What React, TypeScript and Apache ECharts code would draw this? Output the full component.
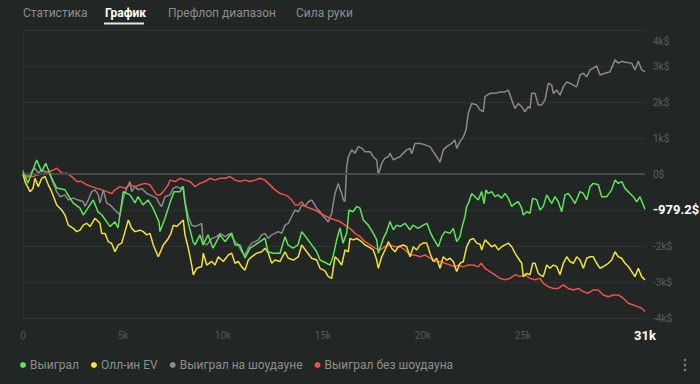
import React, { useEffect, useRef } from 'react';
import * as echarts from 'echarts';

const tabs = ['Статистика', 'График', 'Префлоп диапазон', 'Сила руки'];
const activeTab = 1;
const seriesNames = ['Выиграл', 'Олл-ин EV', 'Выиграл на шоудауне', 'Выиграл без шоудауна'];
const seriesColors = ['#5ee659', '#efe33a', '#8a8a8a', '#ee524b'];
const totalHands = 31100;
const totalHandsLabel = '31k';
const xTicks = [0, 5000, 10000, 15000, 20000, 25000];

const greenHands = [0,250,685,935,1135,1435,1685,2100,2500,2850,3015,3515,3750,3950,4350,4600,4750,5015,5350,5600,5750,6000,6250,6500,6800,6850,7100,7350,7550,7850,8000,8100,8250,8500,8600,8850,9000,9250,9500,9850,10100,10435,10600,10850,11100,11350,11600,11850,12100,12250,12500,12850,13100,13250,13500,13750,13935,14185,14435,14685,14850,15185,15350,15500,15685,15850,16000,16185,16300,16500,16685,16850,17015,17265,17515,17685,17765,18015,18185,18350,18515,18685,18850,19100,19350,19500,19750,20015,20200,20350,20515,20765,20935,21100,21350,21515,21685,21850,21935,22100,22185,22265,22435,22600,22765,22935,23050,23150,23250,23435,23600,23750,23935,24100,24265,24435,24600,24765,24935,25015,25185,25350,25485,25685,25850,26015,26185,26435,26600,26765,26935,27100,27265,27435,27600,27850,28015,28185,28350,28515,28765,28935,29185,29435,29600,29765,29935,30100,30350,30515,30685,30850,31015,31100];
const greenValues = [50,-250,390,60,300,-110,-390,-440,-800,-950,-1140,-720,-1050,-1140,-1460,-1330,-1500,-490,-580,-800,-630,-860,-720,-950,-1330,-1600,-1230,-800,-490,-490,-350,-800,-1330,-1880,-1970,-1690,-1970,-1690,-2060,-1690,-1880,-1640,-1970,-1970,-2330,-2060,-1970,-1880,-1780,-2160,-2200,-2200,-1740,-1970,-2060,-1970,-1600,-1780,-1970,-2160,-2390,-2480,-2530,-2300,-1830,-1500,-1920,-1640,-1000,-1050,-900,-950,-1280,-1420,-1650,-1830,-2200,-1790,-1600,-1320,-1550,-1420,-1460,-1370,-1550,-1420,-1510,-1420,-1370,-1600,-1790,-2020,-1740,-1600,-1650,-1510,-1880,-1740,-1510,-1180,-900,-820,-540,-630,-720,-490,-820,-440,-540,-490,-630,-580,-670,-540,-670,-900,-820,-770,-950,-1140,-1050,-1090,-670,-720,-1000,-900,-580,-820,-630,-770,-1050,-580,-540,-670,-820,-490,-540,-720,-350,-260,-300,-630,-630,-440,-170,-260,-210,-400,-540,-630,-770,-630,-860,-979.2];

const yellowHands = [0,100,350,500,600,765,935,1100,1265,1435,1685,1935,2100,2265,2515,2685,2850,3015,3185,3350,3600,3850,3935,4100,4265,4435,4600,4765,4935,5100,5265,5435,5600,5850,6015,6185,6350,6515,6765,7015,7265,7400,7515,7685,7850,8015,8100,8265,8435,8515,8685,8935,9015,9185,9435,9600,9765,10015,10265,10435,10600,10765,10935,11100,11265,11435,11685,11935,12100,12265,12435,12600,12850,13100,13265,13515,13765,13935,14185,14435,14685,14850,15100,15265,15435,15600,15765,15935,16100,16265,16350,16515,16685,16935,17100,17265,17515,17685,17765,17935,18100,18265,18435,18600,18765,19015,19185,19350,19515,19685,19850,20015,20185,20350,20515,20685,20850,21015,21185,21350,21515,21685,21850,22015,22185,22350,22515,22685,22850,22935,23100,23265,23435,23600,23765,23935,24100,24265,24435,24600,24765,24935,25015,25185,25350,25485,25600,25765,25850,26015,26185,26350,26515,26685,26850,27015,27185,27350,27515,27685,27850,28015,28185,28350,28515,28685,28850,29015,29265,29435,29600,29765,29935,30100,30265,30435,30600,30765,30935,31100];
const yellowValues = [0,-210,-490,-400,-120,-350,-120,-70,-300,-490,-860,-1000,-1140,-1420,-1510,-1600,-1560,-1420,-1370,-1460,-1230,-1370,-1650,-1650,-1880,-1930,-2160,-1970,-1920,-1600,-1280,-1510,-1600,-1560,-1600,-1690,-1650,-1970,-2300,-1970,-1790,-1650,-1420,-1460,-1370,-1280,-1690,-2060,-2530,-2800,-2620,-2570,-2200,-2530,-2430,-2530,-2300,-2430,-2250,-2200,-2480,-2430,-2580,-2670,-2390,-2300,-2200,-2160,-2060,-2200,-2480,-2390,-2430,-2160,-2340,-2390,-2300,-1970,-2160,-2340,-2390,-2620,-2690,-2850,-2900,-2300,-2390,-2530,-2110,-2160,-1790,-1830,-1790,-1880,-1970,-2020,-2110,-2390,-2620,-2300,-2110,-1880,-2060,-2160,-2020,-1970,-2020,-2300,-2020,-2110,-1970,-1920,-1920,-2200,-2430,-2340,-2620,-2300,-2390,-2340,-2430,-2710,-2480,-2430,-2020,-1830,-1790,-1920,-1950,-2110,-1830,-1920,-2020,-1970,-2110,-2020,-1970,-1920,-2020,-2200,-2340,-2480,-2850,-2760,-2800,-2480,-2480,-2760,-2800,-2850,-2530,-2620,-2530,-2570,-2800,-2480,-2300,-2430,-2480,-2300,-2390,-2620,-2340,-2300,-2300,-2480,-2620,-2570,-2480,-2390,-2160,-2300,-2340,-2480,-2570,-2710,-2850,-2620,-2850,-2940];

const grayHands = [0,65,265,435,600,765,935,1185,1350,1515,1685,1850,2100,2265,2515,2765,3015,3100,3265,3435,3600,3765,3850,4015,4185,4350,4515,4685,4850,5015,5185,5350,5435,5600,5765,5935,6185,6350,6515,6685,6800,6935,7100,7350,7515,7685,7850,8015,8100,8265,8435,8600,8765,8935,9015,9185,9435,9685,9850,10100,10350,10600,10765,10935,11100,11265,11435,11600,11765,11935,12100,12265,12435,12600,12765,12935,13100,13265,13435,13600,13765,13935,14100,14265,14435,14685,14850,15015,15100,15265,15435,15515,15600,15765,15850,15935,16015,16100,16185,16265,16435,16600,16765,16935,17100,17350,17515,17685,17765,17935,18100,18265,18350,18515,18685,18850,19015,19185,19350,19435,19600,19850,20100,20350,20515,20685,20850,21015,21185,21435,21600,21685,21850,22015,22150,22265,22435,22685,22850,23015,23100,23350,23600,23850,24100,24265,24435,24600,24765,24935,25100,25265,25350,25435,25600,25765,25935,26100,26265,26435,26515,26685,26850,27015,27185,27350,27515,27685,27850,28015,28185,28350,28515,28685,28850,29100,29350,29600,29765,29935,30185,30435,30600,30765,30935,31100];
const grayValues = [100,-30,-70,60,160,30,110,60,-30,-260,-490,-630,-580,-720,-670,-720,-770,-900,-720,-490,-440,-580,-810,-440,-810,-860,-950,-1050,-1140,-670,-400,-210,-490,-350,-440,-400,-540,-580,-630,-670,-810,-900,-630,-580,-400,-350,-400,-350,-760,-1180,-1420,-1460,-1420,-1370,-1920,-1970,-1790,-1740,-1650,-1740,-1650,-1880,-1970,-2160,-2250,-2060,-1920,-1880,-1830,-1690,-1650,-1790,-1690,-1650,-1600,-1650,-1420,-1370,-1180,-1000,-1050,-860,-900,-770,-720,-950,-1050,-1180,-1230,-1330,-1090,-810,-540,-260,-420,-540,-720,-760,200,480,670,580,760,720,620,620,480,390,-30,300,440,480,580,390,440,480,580,670,710,560,850,850,810,760,620,480,330,670,760,850,940,710,900,1030,1220,1690,1960,1920,1780,1730,2150,2240,2240,2280,2280,2330,2060,1820,1960,1870,1730,1870,1820,2240,2240,1920,1920,2060,2520,2470,2240,2330,2190,2420,2560,2520,2470,2420,2750,2800,2700,2890,2940,3000,2750,2800,2840,3170,3080,3130,3100,3080,2890,3130,2890,2840];

const redHands = [0,100,265,515,685,935,1265,1515,1685,1935,2185,2435,2685,2935,3185,3435,3685,3935,4185,4435,4600,4850,5100,5350,5600,5850,6100,6350,6515,6685,6850,7015,7265,7350,7600,7850,8100,8350,8600,8850,9100,9350,9600,9850,10100,10350,10600,10850,11100,11350,11600,11850,12100,12265,12435,12600,12850,13100,13265,13435,13600,13765,13935,14100,14350,14600,14850,15100,15350,15600,15850,16100,16350,16600,16850,17100,17350,17600,17850,18100,18350,18600,18850,19100,19350,19600,19850,20100,20350,20600,20850,21100,21350,21600,21765,22015,22265,22515,22765,22900,23100,23350,23600,23850,24100,24350,24600,24850,25100,25350,25600,25850,26015,26265,26515,26765,27015,27265,27515,27765,28015,28265,28515,28765,29015,29265,29515,29765,30015,30265,30515,30765,30935,31100];
const redValues = [0,-120,-70,-70,-30,0,60,110,160,30,20,-70,-210,-210,-300,-350,-400,-440,-490,-540,-440,-350,-400,-300,-350,-300,-260,-300,-440,-580,-580,-490,-300,-170,-210,-120,-170,-210,-350,-260,-210,-120,-170,-120,-120,-70,-170,-210,-170,-210,-170,-120,-170,-260,-350,-440,-540,-580,-630,-720,-860,-860,-770,-900,-950,-1000,-1090,-1160,-1230,-1280,-1320,-1420,-1510,-1650,-1740,-1880,-1970,-2060,-2110,-2020,-1970,-2020,-2020,-2110,-2250,-2250,-2300,-2250,-2340,-2430,-2430,-2480,-2530,-2580,-2530,-2580,-2530,-2530,-2580,-2480,-2620,-2710,-2800,-2900,-2940,-2900,-2800,-2850,-2800,-2900,-2940,-2900,-3040,-3130,-3180,-3180,-3080,-3180,-3220,-3180,-3270,-3310,-3220,-3220,-3360,-3410,-3360,-3360,-3450,-3590,-3640,-3690,-3730,-3820];

const pairs = (hs: number[], vs: number[]) => {
  const n = Math.min(hs.length, vs.length);
  const out: number[][] = [];
  for (let i = 0; i < n; i++) out.push([hs[i], vs[i]]);
  return out;
};

const FONT = 'Roboto, "Noto Sans", sans-serif';
const BG = '#222625';
const AXIS_LABEL = '#5a5f5d';

export default function App() {
  const ref = useRef<HTMLDivElement>(null);
  useEffect(() => {
    document.body.style.margin = '0';
    document.body.style.background = BG;
    if (!ref.current) return;
    const chart = echarts.init(ref.current, null, { renderer: 'svg' });
    const lastGreen = greenValues[greenValues.length - 1];
    const tabX = [23, 105, 168, 296];
    const lineBase = (name: string, color: string, data: number[][], z: number) => ({
      name,
      type: 'line',
      data,
      showSymbol: false,
      symbol: 'none',
      z,
      lineStyle: { color, width: 1.5 },
      itemStyle: { color },
      emphasis: { disabled: true },
    });
    const series: any[] = [
      {
        ...lineBase(seriesNames[2], seriesColors[2], pairs(grayHands, grayValues), 2),
        markLine: {
          silent: true,
          symbol: ['none', 'none'],
          label: { show: false },
          lineStyle: { color: '#464b49', width: 2, type: 'solid' },
          data: [{ yAxis: 0 }],
        },
      },
      lineBase(seriesNames[3], seriesColors[3], pairs(redHands, redValues), 3),
      lineBase(seriesNames[1], seriesColors[1], pairs(yellowHands, yellowValues), 4),
      {
        ...lineBase(seriesNames[0], seriesColors[0], pairs(greenHands, greenValues), 5),
        endLabel: {
          show: true,
          formatter: () => `${lastGreen}$`,
          color: '#ffffff',
          fontWeight: 'bold',
          fontSize: 13,
          fontFamily: FONT,
          distance: 8,
        },
      },
    ];
    chart.setOption({
      animation: false,
      backgroundColor: BG,
      textStyle: { fontFamily: FONT },
      grid: { left: 23, right: 55, top: 30, bottom: 66 },
      legend: {
        left: 20,
        top: 359,
        icon: 'circle',
        itemWidth: 6,
        itemHeight: 6,
        itemGap: 12,
        padding: 0,
        data: seriesNames,
        textStyle: { color: '#8b8f8d', fontSize: 12, fontFamily: FONT, padding: [0, 0, 0, -1] },
        selectedMode: false,
      },
      xAxis: {
        type: 'value',
        min: 0,
        max: totalHands,
        interval: 5000,
        axisLine: { show: false },
        axisTick: { show: false },
        splitLine: { show: false },
        axisLabel: {
          color: '#555a58',
          fontSize: 10,
          margin: 12,
          formatter: (v: number) => (xTicks.indexOf(v) >= 0 ? (v === 0 ? '0' : `${v / 1000}k`) : ''),
        },
      },
      yAxis: [
        {
          type: 'value',
          position: 'right',
          min: -4000,
          max: 4000,
          interval: 1000,
          axisLine: { show: true, lineStyle: { color: '#333836' } },
          axisTick: { show: false },
          splitLine: { show: true, lineStyle: { color: '#2e3331', width: 1 } },
          axisLabel: {
            color: AXIS_LABEL,
            fontSize: 10,
            margin: 8,
            verticalAlignMaxLabel: 'top',
            formatter: (v: number) => {
              if (Math.abs(v - lastGreen) < 500) return '';
              if (v === 4000) return '{t|4k$}';
              return v === 0 ? '0$' : `${v / 1000}k$`;
            },
            rich: { t: { color: AXIS_LABEL, fontSize: 10, fontFamily: FONT, padding: [6, 0, 0, 0] } },
          },
        },
        {
          type: 'value',
          position: 'left',
          min: -4000,
          max: 4000,
          interval: 1000,
          axisLine: { show: true, lineStyle: { color: '#2c302f' } },
          axisTick: { show: false },
          splitLine: { show: false },
          axisLabel: { show: false },
        },
      ],
      series,
      graphic: [
        ...tabs.map((t, i) => ({
          type: 'text',
          x: tabX[i],
          y: 12.5,
          style: {
            text: t,
            fill: i === activeTab ? '#ffffff' : '#8b8f8d',
            font: `${i === activeTab ? 'bold ' : ''}12px ${FONT}`,
            align: 'left',
            verticalAlign: 'middle',
          },
        })),
        { type: 'rect', shape: { x: 104, y: 22.5, width: 40, height: 2 }, style: { fill: '#e6e6e6' } },
        {
          type: 'text',
          x: 645,
          y: 335,
          style: { text: totalHandsLabel, fill: '#ffffff', font: `bold 13px ${FONT}`, align: 'center', verticalAlign: 'middle' },
        },
        { type: 'circle', shape: { cx: 685, cy: 360, r: 1.3 }, style: { fill: '#7a7e7c' } },
        { type: 'circle', shape: { cx: 685, cy: 365, r: 1.3 }, style: { fill: '#7a7e7c' } },
        { type: 'circle', shape: { cx: 685, cy: 370, r: 1.3 }, style: { fill: '#7a7e7c' } },
      ],
    });
    return () => chart.dispose();
  }, []);
  return <div ref={ref} style={{ position: 'fixed', left: 0, top: 0, width: 700, height: 384, background: BG }} />;
}
